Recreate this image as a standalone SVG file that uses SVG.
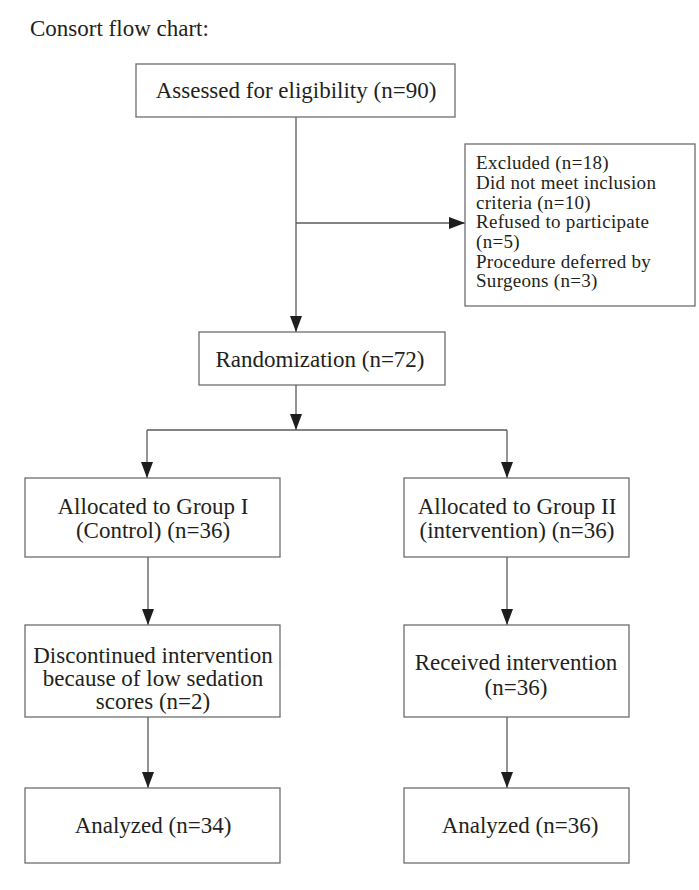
<svg xmlns="http://www.w3.org/2000/svg" width="699" height="890" viewBox="0 0 699 890">
<style>
text{fill:#231f20;font-size:23px}
.c{text-anchor:middle}
.s{font-size:19px;letter-spacing:0.3px}
.box{fill:#fff;stroke:#6d6d6d;stroke-width:1.3}
.ln{fill:none;stroke:#5a5a5a;stroke-width:1.3}
</style>
<defs>
<marker id="ah" viewBox="0 0 16 12" refX="16" refY="6" markerWidth="16" markerHeight="12" markerUnits="userSpaceOnUse" orient="auto">
<path d="M0,0 L16,6 L0,12 z" fill="#1e1e1e"/>
</marker>
</defs>
<rect width="699" height="890" fill="#fff"/>
<g font-family="Liberation Serif, Times New Roman, DejaVu Serif, serif">
<text id="title" x="30" y="36">Consort flow chart:</text>
<g id="connectors">
<path class="ln" d="M296,117 V332" marker-end="url(#ah)"/>
<path class="ln" d="M296,223 H465" marker-end="url(#ah)"/>
<path class="ln" d="M296,385 V430" marker-end="url(#ah)"/>
<path class="ln" d="M147,430 H507"/>
<path class="ln" d="M147,430 V478" marker-end="url(#ah)"/>
<path class="ln" d="M507,430 V478" marker-end="url(#ah)"/>
<path class="ln" d="M148,557 V625" marker-end="url(#ah)"/>
<path class="ln" d="M507,557 V625" marker-end="url(#ah)"/>
<path class="ln" d="M148,717 V788" marker-end="url(#ah)"/>
<path class="ln" d="M507,717 V788" marker-end="url(#ah)"/>
</g>
<g id="assessed">
<rect class="box" x="136" y="64" width="319" height="53"/>
<text class="c" x="296" y="98">Assessed for eligibility (n=90)</text>
</g>
<g id="excluded">
<rect class="box" x="465" y="144" width="230" height="162"/>
<text class="s" x="476" y="169">Excluded (n=18)</text>
<text class="s" x="476" y="189">Did not meet inclusion</text>
<text class="s" x="476" y="209">criteria (n=10)</text>
<text class="s" x="476" y="228">Refused to participate</text>
<text class="s" x="476" y="248">(n=5)</text>
<text class="s" x="476" y="268">Procedure deferred by</text>
<text class="s" x="476" y="287">Surgeons (n=3)</text>
</g>
<g id="randomization">
<rect class="box" x="199" y="332" width="246" height="53"/>
<text class="c" x="320" y="367">Randomization (n=72)</text>
</g>
<g id="group1">
<rect class="box" x="25" y="478" width="255" height="79"/>
<text class="c" x="153" y="514">Allocated to Group I</text>
<text class="c" x="153" y="538">(Control) (n=36)</text>
</g>
<g id="group2">
<rect class="box" x="404" y="478" width="225" height="79"/>
<text class="c" x="517" y="514">Allocated to Group II</text>
<text class="c" x="517" y="538">(intervention) (n=36)</text>
</g>
<g id="discontinued">
<rect class="box" x="25" y="625" width="255" height="92"/>
<text class="c" x="153" y="663">Discontinued intervention</text>
<text class="c" x="153" y="686">because of low sedation</text>
<text class="c" x="153" y="709">scores (n=2)</text>
</g>
<g id="received">
<rect class="box" x="404" y="625" width="225" height="92"/>
<text class="c" x="516" y="670">Received intervention</text>
<text class="c" x="516" y="695">(n=36)</text>
</g>
<g id="analyzed1">
<rect class="box" x="25" y="788" width="255" height="75"/>
<text class="c" x="153" y="833">Analyzed (n=34)</text>
</g>
<g id="analyzed2">
<rect class="box" x="404" y="788" width="225" height="75"/>
<text class="c" x="520" y="833">Analyzed (n=36)</text>
</g>
</g>
</svg>
